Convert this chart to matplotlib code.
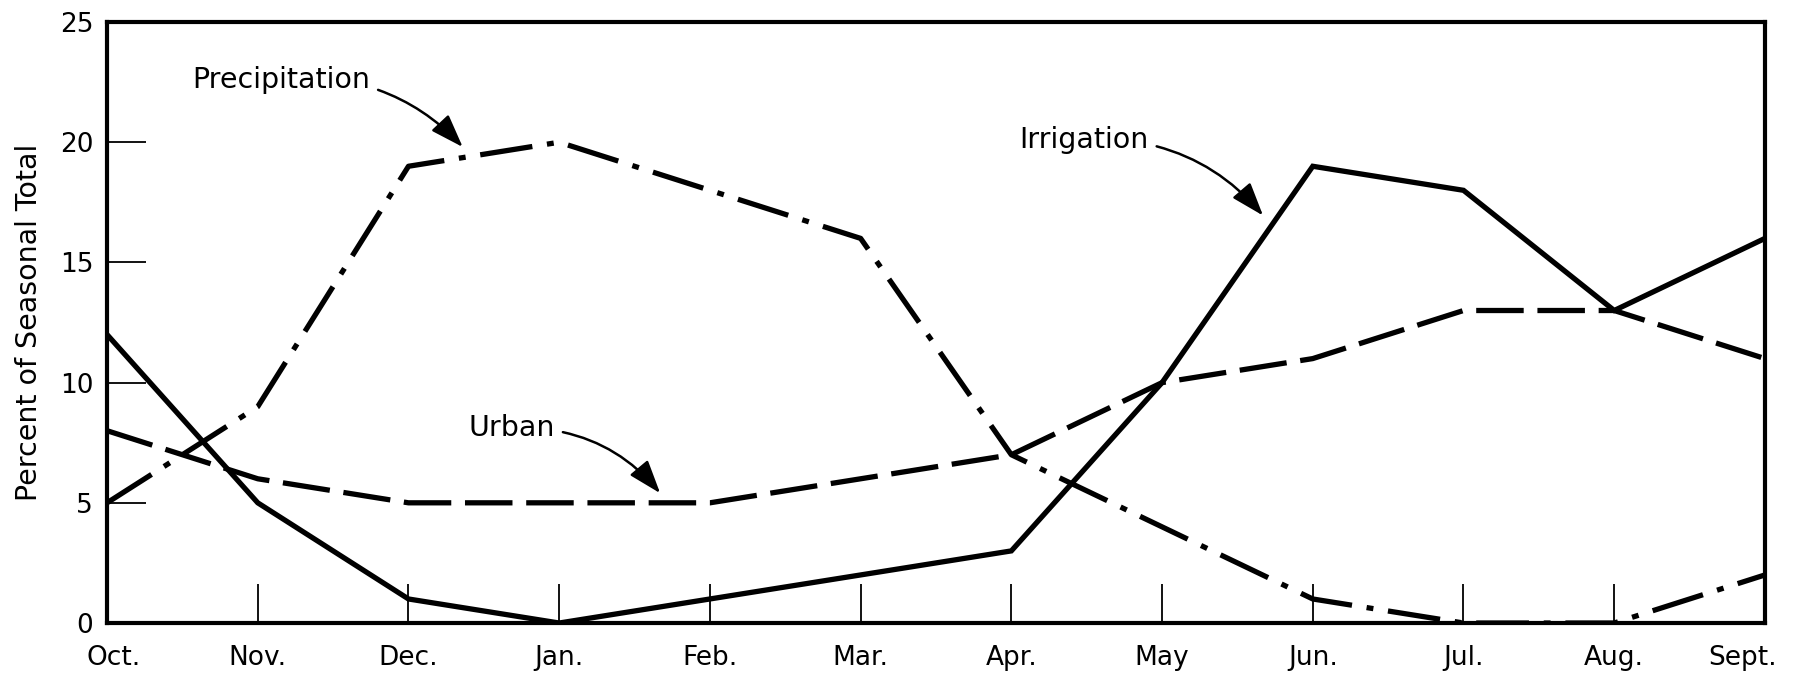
import matplotlib
matplotlib.use("Agg")
import matplotlib.pyplot as plt
from matplotlib.transforms import ScaledTranslation

months = ["Oct.", "Nov.", "Dec.", "Jan.", "Feb.", "Mar.", "Apr.", "May", "Jun.", "Jul.", "Aug.", "Sept."]
precipitation = [5, 9, 19, 20, 18, 16, 7, 4, 1, 0, 0, 2]
irrigation = [12, 5, 1, 0, 1, 2, 3, 10, 19, 18, 13, 16]
urban = [8, 6, 5, 5, 5, 6, 7, 10, 11, 13, 13, 11]
y_ticks = [0, 5, 10, 15, 20, 25]

plt.rcParams['font.family'] = ['DejaVu Sans']

fig = plt.figure(figsize=(17.96, 6.8), dpi=100)
ax = fig.add_axes([0.0596, 0.0838, 0.9231, 0.8838])

x = list(range(len(months)))
lw = 3.8
ax.plot(x, irrigation, color='black', lw=lw, linestyle='-', solid_joinstyle='miter')
ax.plot(x, urban, color='black', lw=lw, linestyle=(0, (9, 2.6)))
ax.plot(x, precipitation, color='black', lw=lw, linestyle=(0, (10, 2.8, 1.3, 2.8)))

ax.set_xlim(0, len(months) - 1)
ax.set_ylim(0, 25)
ax.set_xticks(x)
ax.set_xticklabels(months)
ax.set_yticks(y_ticks)
ax.set_yticklabels([str(v) for v in y_ticks])

ax.tick_params(axis='both', direction='in', length=28, width=1.3, labelsize=19, colors='black')
ax.tick_params(axis='x', pad=16)
ax.tick_params(axis='y', pad=10)
for s in ax.spines.values():
    s.set_linewidth(3.0)

labels = ax.get_xticklabels()
labels[0].set_transform(labels[0].get_transform() + ScaledTranslation(0.07, 0, fig.dpi_scale_trans))
labels[-1].set_transform(labels[-1].get_transform() + ScaledTranslation(-0.22, 0, fig.dpi_scale_trans))

ax.set_ylabel("Percent of Seasonal Total", fontsize=20.5, labelpad=12)

akw = dict(arrowstyle='-|>,head_length=1.0,head_width=0.35', color='black', lw=1.8,
           connectionstyle='arc3,rad=-0.25', shrinkA=4, shrinkB=0)
ax.annotate("Precipitation", xy=(2.36, 19.8), xytext=(1.745, 22.6), ha='right', va='center',
            fontsize=20.5, arrowprops=akw)
ax.annotate("Urban", xy=(3.67, 5.4), xytext=(2.97, 8.1), ha='right', va='center',
            fontsize=20.5, arrowprops=akw)
ax.annotate("Irrigation", xy=(7.67, 16.95), xytext=(6.91, 20.1), ha='right', va='center',
            fontsize=20.5, arrowprops=akw)

fig.savefig("out.png", dpi=100)
